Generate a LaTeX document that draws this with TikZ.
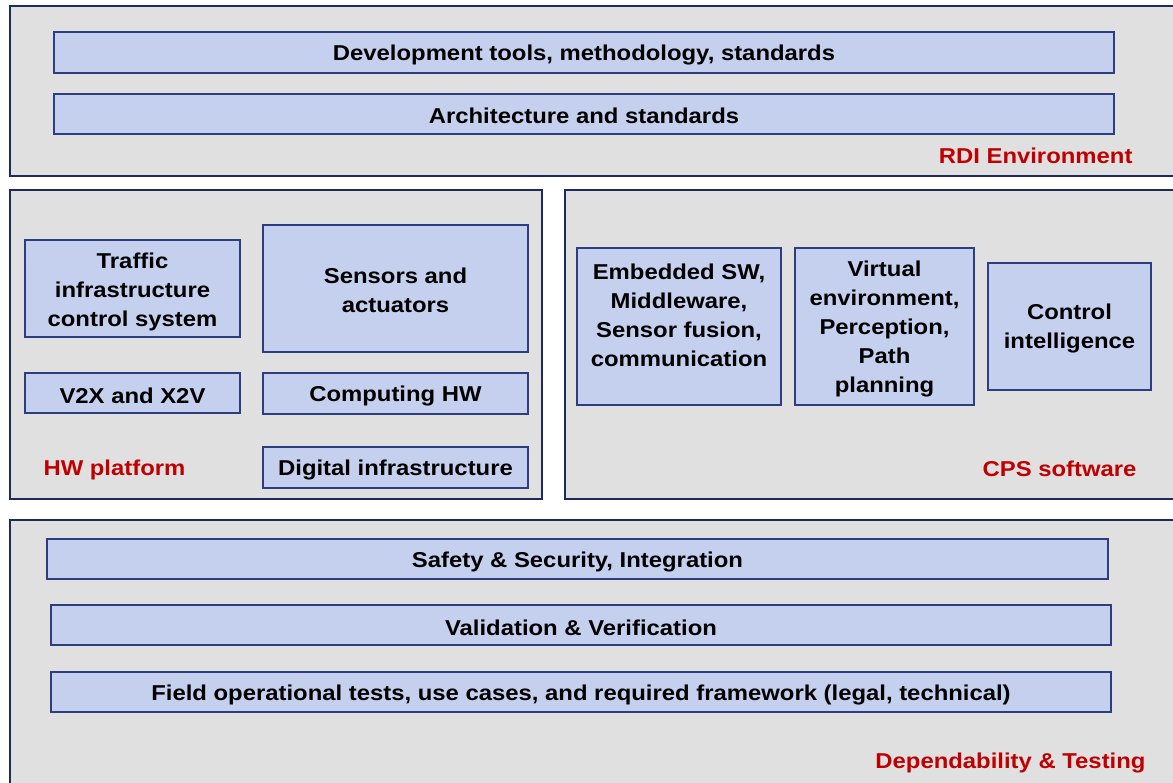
\documentclass[tikz,border=0pt]{standalone}
\usepackage{fontspec}
\setmainfont{Liberation Sans}[FakeStretch=1.11]
\definecolor{outerline}{HTML}{1F2A5C}
\definecolor{outerfill}{HTML}{E0E0E0}
\definecolor{innerline}{HTML}{2E3D82}
\definecolor{innerfill}{HTML}{C5D0EE}
\definecolor{labred}{HTML}{C00000}
\begin{document}
\begin{tikzpicture}[x=1pt,y=-1pt,
  outerbox/.style={draw=outerline,fill=outerfill,line width=2.8pt},
  innerbox/.style={draw=innerline,fill=innerfill,line width=1.3pt},
  btext/.style={font=\fontsize{21.5}{29}\selectfont\bfseries,align=center,text=black},
  redlab/.style={font=\fontsize{21.5}{24}\selectfont\bfseries,text=labred}]
\useasboundingbox (0,0) rectangle (1173,783);
\fill[white] (0,0) rectangle (1173,783);
% outer panels
\draw[outerbox] (10,6) rectangle (1185,176);
\draw[outerbox] (10,190) rectangle (542,499);
\draw[outerbox] (565,190) rectangle (1185,499);
\draw[outerbox] (10,520) rectangle (1185,795);
% RDI
\draw[innerbox] (54,32) rectangle (1114,73) node[btext,midway,yshift=-2.5pt] (dev) {Development tools, methodology, standards};
\draw[innerbox] (54,94) rectangle (1114,134) node[btext,midway,yshift=-2pt] (arch) {Architecture and standards};
\node[redlab,anchor=east] (rdi) at (1136,156) {RDI Environment};
% HW
\draw[innerbox] (25,240) rectangle (240,337) node[btext,midway,yshift=-3pt] (traffic) {Traffic\\infrastructure\\control system};
\draw[innerbox] (263,225) rectangle (528,352) node[btext,midway,yshift=-2pt] (sens) {Sensors and\\actuators};
\draw[innerbox] (25,373) rectangle (240,413) node[btext,midway,yshift=-2.5pt] (v2x) {V2X and X2V};
\draw[innerbox] (263,373) rectangle (528,414) node[btext,midway,yshift=-2.5pt] (comp) {Computing HW};
\draw[innerbox] (263,447) rectangle (528,488) node[btext,midway,yshift=-2.5pt] (dig) {Digital infrastructure};
\node[redlab,anchor=west] (hw) at (40,470) {HW platform};
% CPS
\draw[innerbox] (577,248) rectangle (781,405) node[btext,midway,yshift=11.5pt] (emb) {Embedded SW,\\Middleware,\\Sensor fusion,\\communication};
\draw[innerbox] (795,248) rectangle (974,405) node[btext,midway,yshift=-2.5pt] (virt) {Virtual\\environment,\\Perception,\\Path\\planning};
\draw[innerbox] (988,263) rectangle (1151,390) node[btext,midway,yshift=-2pt] (ctrl) {Control\\intelligence};
\node[redlab,anchor=east] (cps) at (1140,469) {CPS software};
% Dependability
\draw[innerbox] (47,539) rectangle (1108,579) node[btext,midway,yshift=-2.5pt] (safe) {Safety \& Security, Integration};
\draw[innerbox] (51,605) rectangle (1111,645) node[btext,midway,yshift=-2.5pt] (val) {Validation \& Verification};
\draw[innerbox] (51,672) rectangle (1111,712) node[btext,midway,yshift=-2.5pt] (field) {Field operational tests, use cases, and required framework (legal, technical)};
\node[redlab,anchor=east] (dep) at (1149,763) {Dependability \& Testing};
\end{tikzpicture}
\end{document}
